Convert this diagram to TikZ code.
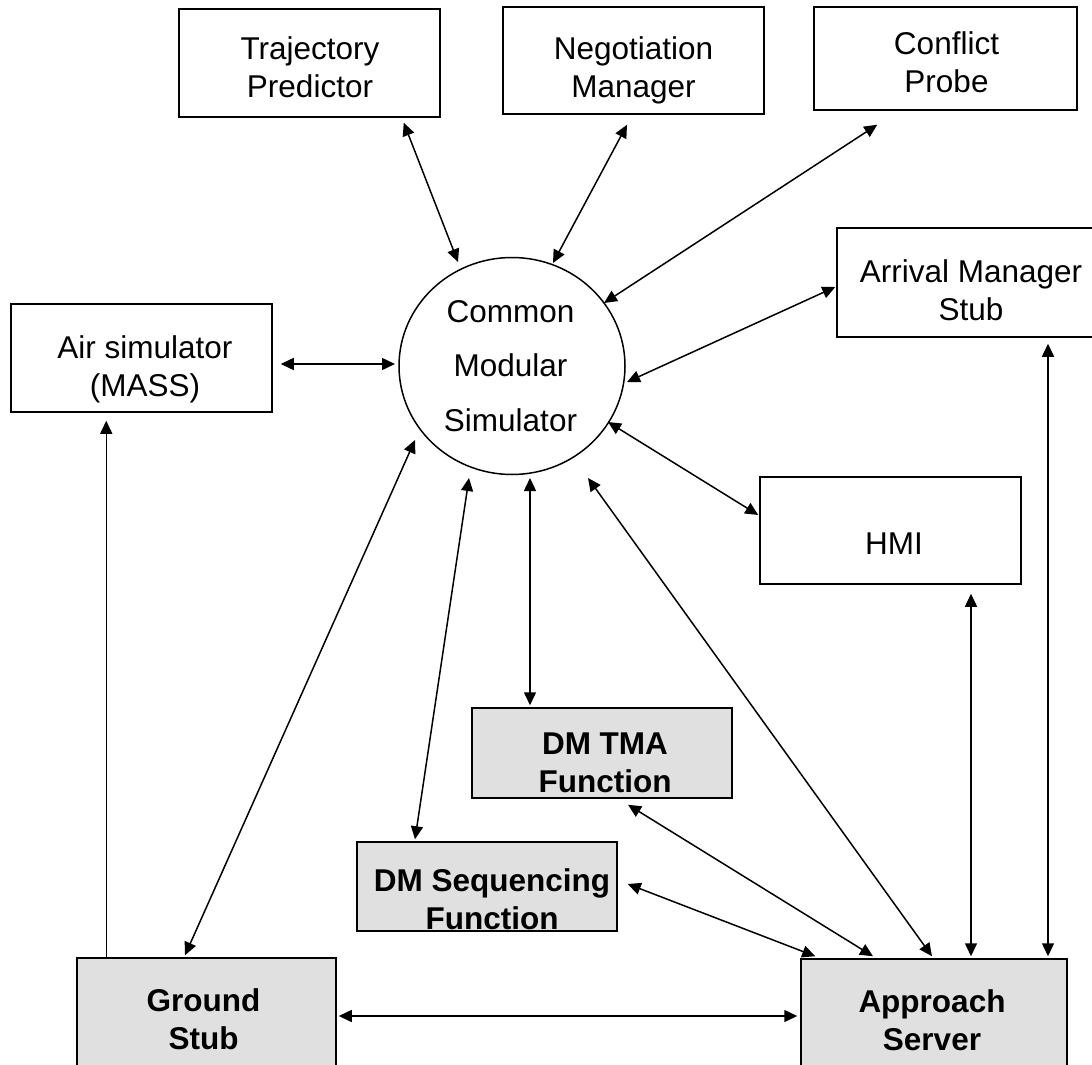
\documentclass[tikz,border=0pt]{standalone}
\usepackage{fontspec}
\setmainfont{Liberation Sans}
\usetikzlibrary{arrows.meta,shapes.geometric}
\definecolor{boxgray}{RGB}{224,224,224}
\begin{document}
\begin{tikzpicture}[x=1pt,y=-1pt,
  bx/.style={draw=black, line width=1.5pt, inner sep=0pt, rectangle},
  gbx/.style={bx, fill=boxgray},
  txt/.style={align=center, inner sep=0pt, font=\fontsize{31.5}{38}\selectfont},
  btxt/.style={align=center, inner sep=0pt, font=\fontsize{31.5}{38}\selectfont\bfseries},
  arr/.style={line width=1.5pt, {Triangle[length=13pt,width=12pt]}-{Triangle[length=13pt,width=12pt]}},
  arrone/.style={line width=1.5pt, -{Triangle[length=13pt,width=12pt]}}
]
\useasboundingbox (0,0) rectangle (1092,1065);
\clip (0,0) rectangle (1092,1065);
\fill[white] (0,0) rectangle (1092,1065);

% boxes
\node[bx, minimum width=261pt, minimum height=108pt] (tp) at (309.5,63) {};
\node[txt] (tpt) at (310,67.7) {Trajectory\\Predictor};

\node[bx, minimum width=261pt, minimum height=107pt] (nm) at (633.5,60.5) {};
\node[txt] (nmt) at (633.5,70.5) {Negotiation\\Manager};

\node[bx, minimum width=263pt, minimum height=103pt] (cp) at (945.5,58.5) {};
\node[txt] (cpt) at (946.5,62.5) {Conflict\\Probe};

\node[bx, minimum width=268pt, minimum height=109pt] (am) at (971,282.5) {};
\node[txt] (amt) at (971,290) {Arrival Manager\\Stub};

\node[bx, minimum width=261pt, minimum height=108pt] (air) at (141.5,358) {};
\node[txt] (airt) at (145,369.3) {Air simulator\\(MASS)};

\node[draw=black, line width=1.5pt, ellipse, inner sep=0pt,
      minimum width=226pt, minimum height=217pt] (cms) at (512,366) {};
\node[align=center, inner sep=0pt, font=\fontsize{31.5}{54.5}\selectfont] (cmst) at (510.5,366) {Common\\Modular\\Simulator};

\node[bx, minimum width=261pt, minimum height=107pt] (hmi) at (890.5,530.5) {};
\node[txt] (hmit) at (894,543.7) {HMI};

\node[gbx, minimum width=260pt, minimum height=90pt] (tma) at (602,753) {};
\node[btxt] (tmat) at (605,762.7) {DM TMA\\Function};

\node[gbx, minimum width=260pt, minimum height=89pt] (seq) at (487,886.5) {};
\node[btxt] (seqt) at (492,899.7) {DM Sequencing\\Function};

\node[gbx, minimum width=259pt, minimum height=124pt] (gs) at (206.5,1020) {};
\node[btxt] (gst) at (203.5,1019.5) {Ground\\Stub};

\node[gbx, minimum width=266pt, minimum height=123pt] (as) at (934,1020.5) {};
\node[btxt] (ast) at (932,1020) {Approach\\Server};

% connectors
\draw[arr] ([xshift=-37pt,yshift=-5pt]tp.south east) -- ([xshift=-54pt,yshift=104pt]cms.center);
\draw[arr] ([xshift=-6.5pt,yshift=-10pt]nm.south) -- ([xshift=41pt,yshift=103pt]cms.center);
\draw[arr] ([xshift=64pt,yshift=-14pt]cp.south west) -- ([xshift=92pt,yshift=63pt]cms.center);
\draw[arr] ([xshift=-1pt,yshift=-4.5pt]am.west) -- ([xshift=115pt,yshift=-16pt]cms.center);
\draw[arr] ([xshift=8pt,yshift=-6pt]air.east) -- ([xshift=-117pt,yshift=2pt]cms.center);
\draw[arr] ([xshift=-1pt,yshift=15.5pt]hmi.west) -- ([xshift=96pt,yshift=-56pt]cms.center);
\draw[arr] ([xshift=-21.5pt,yshift=2pt]gs.north) -- ([xshift=-97pt,yshift=-74pt]cms.center);
\draw[arr] ([xshift=-72pt,yshift=2pt]seq.north) -- ([xshift=-43pt,yshift=-112pt]cms.center);
\draw[arr] ([xshift=-72pt,yshift=2pt]tma.north) -- ([xshift=18pt,yshift=-112pt]cms.center);
\draw[arr] ([xshift=-2pt,yshift=2pt]as.north) -- ([xshift=76pt,yshift=-112pt]cms.center);
\draw[arr] ([xshift=26pt,yshift=-6pt]tma.south) -- ([xshift=-61pt,yshift=2pt]as.north);
\draw[arr] ([xshift=10pt,yshift=2.5pt]seq.east) -- ([xshift=15pt,yshift=2pt]as.north west);
\draw[arr] ([xshift=2pt,yshift=4pt]gs.east) -- ([xshift=-3pt,yshift=4.5pt]as.west);
\draw[arr] ([xshift=80.5pt,yshift=-9pt]hmi.south) -- ([xshift=37pt,yshift=2pt]as.north);
\draw[arr] ([xshift=77pt,yshift=-6pt]am.south) -- ([xshift=114pt,yshift=2pt]as.north);
\draw[arrone] ([xshift=30pt]gs.north west) -- ([xshift=96pt,yshift=-8pt]air.south west);
\end{tikzpicture}
\end{document}
